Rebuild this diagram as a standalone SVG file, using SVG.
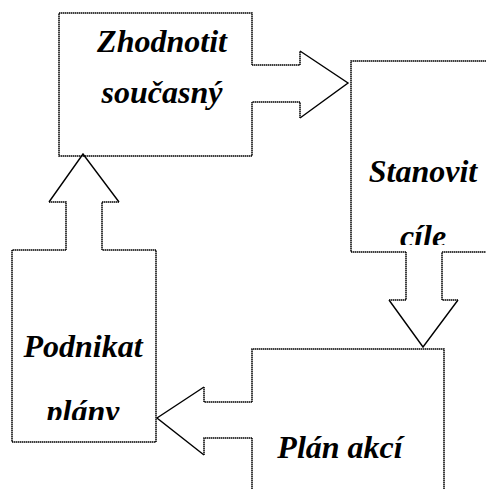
<svg xmlns="http://www.w3.org/2000/svg" width="486" height="489" viewBox="0 0 486 489">
<style>
.dot{fill:none;stroke:#000;stroke-width:1.5;stroke-dasharray:1.5 0.5}
.sol{fill:none;stroke:#000;stroke-width:1.4}
.t{font-family:'Liberation Serif', 'Times New Roman', serif;font-weight:700;font-style:italic;font-size:32px;fill:#000;text-anchor:middle}
</style>
<defs>
<clipPath id="c1"><rect x="351" y="61" width="135" height="184"/></clipPath>
<clipPath id="c2"><rect x="12" y="250" width="144" height="170"/></clipPath>
</defs>
<rect width="486" height="489" fill="#fff"/>
<g id="connectors">
<path class="dot" d="M252,65 H300 V51 M300,118 V102 H252"/>
<path class="sol" d="M300,51 L348,83 L300,118"/>
<path class="dot" d="M406,252 V300 H389 M458,300 H442 V252"/>
<path class="sol" d="M389,300 L423,347 L458,300"/>
<path class="dot" d="M252,402 H204 V387 M204,455 V438 H252"/>
<path class="sol" d="M204,387 L157,418 L204,455"/>
<path class="dot" d="M102,250 V202 H119 M49,202 H66 V250"/>
<path class="sol" d="M119,202 L83,154 L49,202"/>
</g>
<g id="zhodnotit">
<path class="dot" d="M252,102 V156 H59 V13 H252 V65"/>
<text class="t" x="162" y="52">Zhodnotit</text>
<text class="t" x="162" y="103">současný</text>
</g>
<g id="stanovit">
<path class="dot" d="M486,61 H351 V252 H406 M442,252 H486"/>
<g clip-path="url(#c1)">
<text class="t" x="423" y="182">Stanovit</text>
<text class="t" x="423" y="247">cíle</text>
</g>
</g>
<g id="plan">
<path class="dot" d="M252,402 V349 H444 V489 M252,438 V489"/>
<text class="t" x="340" y="458">Plán akcí</text>
</g>
<g id="podnikat">
<path class="dot" d="M66,250 H12 V442 H156 V250 H102"/>
<g clip-path="url(#c2)">
<text class="t" x="83" y="357">Podnikat</text>
<text class="t" x="83" y="422">plány</text>
</g>
</g>
</svg>
